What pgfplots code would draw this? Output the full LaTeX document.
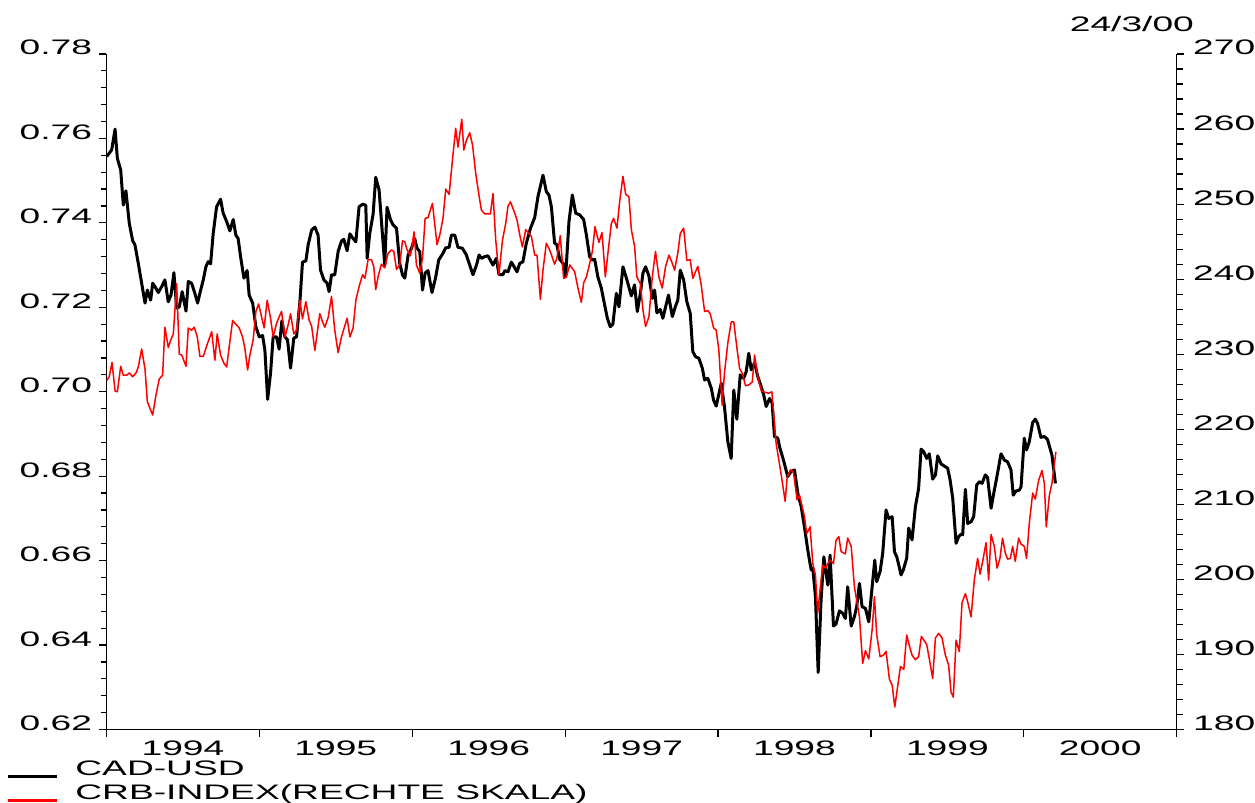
\documentclass[border=0pt]{standalone}
\usepackage{fontspec}
\setmainfont{Liberation Sans}[FakeStretch=1.77]
\usepackage{pgfplots}
\pgfplotsset{compat=1.18}

% Weekly closes, CAD in USD (left scale)
\pgfplotstableread{
year cad
1994.001 0.7557
1994.034 0.7573
1994.056 0.7622
1994.071 0.7553
1994.093 0.7525
1994.110 0.7442
1994.127 0.7476
1994.149 0.7399
1994.171 0.7358
1994.186 0.7348
1994.208 0.7304
1994.230 0.7257
1994.252 0.7210
1994.267 0.7241
1994.289 0.7217
1994.302 0.7257
1994.317 0.7249
1994.339 0.7235
1994.361 0.7249
1994.382 0.7265
1994.404 0.7213
1994.422 0.7229
1994.441 0.7282
1994.459 0.7198
1994.476 0.7201
1994.495 0.7237
1994.520 0.7191
1994.535 0.7261
1994.557 0.7257
1994.578 0.7233
1994.596 0.7210
1994.616 0.7241
1994.633 0.7265
1994.650 0.7296
1994.665 0.7308
1994.681 0.7303
1994.698 0.7375
1994.720 0.7438
1994.746 0.7456
1994.763 0.7423
1994.786 0.7403
1994.807 0.7381
1994.829 0.7408
1994.846 0.7371
1994.861 0.7363
1994.877 0.7320
1994.899 0.7269
1994.920 0.7287
1994.933 0.7229
1994.956 0.7210
1994.977 0.7154
1994.999 0.7130
1995.021 0.7133
1995.036 0.7099
1995.054 0.6982
1995.073 0.7044
1995.090 0.7130
1995.112 0.7130
1995.129 0.7101
1995.147 0.7168
1995.167 0.7130
1995.184 0.7123
1995.204 0.7056
1995.225 0.7127
1995.243 0.7130
1995.265 0.7213
1995.282 0.7307
1995.304 0.7310
1995.319 0.7348
1995.342 0.7383
1995.363 0.7390
1995.384 0.7371
1995.400 0.7288
1995.422 0.7265
1995.443 0.7257
1995.456 0.7237
1995.472 0.7277
1995.493 0.7277
1995.515 0.7332
1995.537 0.7357
1995.552 0.7361
1995.574 0.7334
1995.592 0.7374
1995.613 0.7363
1995.631 0.7355
1995.652 0.7438
1995.675 0.7444
1995.696 0.7442
1995.705 0.7316
1995.722 0.7375
1995.744 0.7421
1995.761 0.7508
1995.783 0.7478
1995.820 0.7300
1995.835 0.7437
1995.858 0.7407
1995.875 0.7395
1995.897 0.7387
1995.918 0.7304
1995.936 0.7277
1995.951 0.7269
1995.973 0.7324
1995.995 0.7340
1996.016 0.7363
1996.031 0.7340
1996.049 0.7332
1996.067 0.7241
1996.084 0.7281
1996.103 0.7287
1996.129 0.7235
1996.152 0.7269
1996.173 0.7312
1996.201 0.7328
1996.219 0.7341
1996.241 0.7342
1996.256 0.7371
1996.278 0.7371
1996.299 0.7342
1996.328 0.7340
1996.354 0.7324
1996.376 0.7300
1996.397 0.7277
1996.420 0.7300
1996.437 0.7324
1996.452 0.7316
1996.474 0.7320
1996.495 0.7322
1996.528 0.7300
1996.550 0.7316
1996.567 0.7278
1996.593 0.7277
1996.605 0.7287
1996.626 0.7284
1996.648 0.7307
1996.663 0.7298
1996.685 0.7284
1996.703 0.7304
1996.724 0.7308
1996.746 0.7352
1996.773 0.7387
1996.801 0.7413
1996.822 0.7462
1996.855 0.7513
1996.877 0.7474
1996.894 0.7466
1996.910 0.7438
1996.931 0.7352
1996.946 0.7348
1996.964 0.7314
1996.986 0.7304
1997.003 0.7272
1997.025 0.7403
1997.047 0.7466
1997.069 0.7423
1997.095 0.7419
1997.121 0.7408
1997.139 0.7371
1997.160 0.7320
1997.178 0.7312
1997.193 0.7314
1997.214 0.7272
1997.237 0.7245
1997.252 0.7217
1997.276 0.7174
1997.295 0.7154
1997.312 0.7160
1997.335 0.7233
1997.352 0.7201
1997.378 0.7296
1997.404 0.7265
1997.433 0.7227
1997.454 0.7253
1997.472 0.7190
1997.492 0.7233
1997.509 0.7281
1997.526 0.7296
1997.548 0.7274
1997.570 0.7221
1997.585 0.7241
1997.600 0.7187
1997.622 0.7195
1997.639 0.7174
1997.657 0.7201
1997.676 0.7229
1997.701 0.7178
1997.722 0.7203
1997.737 0.7217
1997.753 0.7288
1997.775 0.7265
1997.796 0.7213
1997.818 0.7186
1997.835 0.7095
1997.853 0.7083
1997.875 0.7079
1997.897 0.7056
1997.912 0.7028
1997.933 0.7032
1997.956 0.7008
1997.971 0.6980
1997.988 0.6966
1998.021 0.7020
1998.042 0.6965
1998.064 0.6882
1998.086 0.6842
1998.103 0.7004
1998.123 0.6935
1998.145 0.7040
1998.167 0.7032
1998.184 0.7047
1998.201 0.7091
1998.217 0.7052
1998.239 0.7069
1998.260 0.7036
1998.282 0.7012
1998.299 0.6992
1998.315 0.6965
1998.337 0.6984
1998.354 0.6973
1998.369 0.6894
1998.391 0.6890
1998.402 0.6870
1998.428 0.6838
1998.456 0.6799
1998.478 0.6811
1998.500 0.6815
1998.522 0.6759
1998.544 0.6728
1998.565 0.6680
1998.587 0.6625
1998.609 0.6578
1998.620 0.6582
1998.637 0.6515
1998.655 0.6335
1998.674 0.6507
1998.692 0.6609
1998.707 0.6570
1998.718 0.6542
1998.733 0.6613
1998.755 0.6445
1998.772 0.6450
1998.794 0.6481
1998.816 0.6475
1998.833 0.6463
1998.848 0.6538
1998.871 0.6445
1998.892 0.6467
1998.907 0.6491
1998.925 0.6546
1998.942 0.6491
1998.964 0.6487
1998.986 0.6455
1999.008 0.6538
1999.025 0.6601
1999.038 0.6550
1999.060 0.6574
1999.077 0.6617
1999.099 0.6720
1999.116 0.6700
1999.139 0.6704
1999.154 0.6621
1999.169 0.6609
1999.182 0.6590
1999.197 0.6566
1999.212 0.6578
1999.234 0.6606
1999.247 0.6677
1999.269 0.6649
1999.291 0.6728
1999.312 0.6771
1999.328 0.6864
1999.345 0.6858
1999.365 0.6842
1999.382 0.6853
1999.404 0.6793
1999.422 0.6803
1999.437 0.6848
1999.459 0.6829
1999.480 0.6824
1999.502 0.6819
1999.518 0.6791
1999.535 0.6748
1999.557 0.6641
1999.574 0.6657
1999.590 0.6663
1999.600 0.6661
1999.618 0.6769
1999.633 0.6688
1999.655 0.6692
1999.672 0.6704
1999.692 0.6779
1999.709 0.6787
1999.727 0.6783
1999.748 0.6803
1999.763 0.6797
1999.786 0.6724
1999.801 0.6755
1999.822 0.6795
1999.851 0.6853
1999.873 0.6838
1999.894 0.6834
1999.916 0.6815
1999.931 0.6755
1999.949 0.6765
1999.971 0.6767
1999.982 0.6775
2000.003 0.6890
2000.018 0.6862
2000.036 0.6882
2000.058 0.6927
2000.075 0.6935
2000.090 0.6925
2000.112 0.6892
2000.134 0.6894
2000.155 0.6887
2000.184 0.6850
2000.207 0.6783
}\cadusd

% Weekly CRB commodity index (right scale)
\pgfplotstableread{
year crb
1994.001 226.5
1994.018 227.0
1994.036 228.9
1994.056 225.1
1994.071 225.0
1994.093 228.4
1994.110 227.2
1994.132 227.2
1994.149 227.5
1994.171 227.0
1994.193 227.5
1994.208 228.3
1994.230 230.7
1994.252 228.0
1994.267 223.7
1994.284 222.8
1994.302 221.9
1994.324 224.6
1994.345 226.7
1994.367 227.2
1994.382 233.6
1994.404 230.9
1994.420 231.9
1994.437 232.7
1994.459 239.4
1994.476 230.0
1994.492 229.9
1994.520 228.4
1994.535 233.5
1994.557 233.2
1994.574 233.6
1994.594 232.3
1994.611 229.7
1994.633 229.7
1994.655 231.1
1994.688 233.0
1994.709 229.2
1994.724 232.7
1994.746 229.9
1994.768 228.8
1994.786 228.3
1994.807 231.7
1994.825 234.5
1994.846 234.0
1994.868 233.5
1994.890 232.3
1994.905 230.8
1994.923 227.9
1994.938 229.9
1994.959 231.9
1994.977 235.7
1994.995 236.7
1995.014 235.0
1995.031 233.5
1995.051 237.2
1995.073 234.8
1995.090 232.3
1995.112 234.1
1995.134 235.2
1995.145 235.7
1995.167 232.3
1995.188 233.9
1995.204 235.4
1995.225 232.7
1995.243 233.2
1995.265 237.2
1995.282 234.7
1995.304 237.0
1995.326 234.5
1995.342 233.7
1995.363 230.5
1995.395 235.4
1995.413 234.3
1995.428 233.6
1995.450 234.9
1995.472 237.7
1995.493 233.2
1995.515 230.2
1995.537 232.3
1995.559 233.8
1995.574 234.8
1995.592 232.3
1995.613 233.5
1995.631 237.2
1995.652 239.0
1995.675 240.6
1995.690 240.1
1995.711 242.6
1995.733 242.6
1995.748 241.7
1995.761 238.6
1995.776 240.3
1995.798 242.0
1995.820 241.5
1995.841 243.4
1995.864 243.9
1995.879 243.7
1995.897 241.3
1995.918 241.9
1995.936 245.1
1995.951 245.0
1995.966 243.9
1995.988 243.1
1996.012 246.3
1996.027 241.9
1996.049 240.8
1996.067 242.8
1996.084 248.1
1996.103 248.2
1996.132 250.1
1996.162 244.6
1996.180 245.9
1996.201 248.1
1996.219 252.0
1996.241 251.3
1996.263 255.9
1996.284 260.1
1996.299 257.6
1996.324 261.3
1996.337 257.2
1996.354 258.5
1996.376 259.5
1996.394 257.9
1996.415 254.1
1996.437 251.1
1996.452 249.2
1996.474 248.7
1996.511 248.7
1996.528 251.4
1996.546 245.2
1996.567 240.6
1996.590 245.2
1996.611 247.4
1996.626 249.7
1996.642 250.3
1996.663 249.2
1996.685 247.9
1996.703 245.9
1996.720 244.3
1996.742 246.6
1996.763 246.1
1996.779 245.7
1996.801 243.2
1996.816 243.2
1996.838 237.3
1996.855 241.2
1996.877 244.8
1996.899 243.9
1996.931 242.0
1996.946 242.8
1996.968 245.8
1996.990 240.1
1997.008 240.3
1997.030 241.9
1997.062 241.0
1997.084 238.8
1997.106 236.9
1997.121 239.5
1997.139 240.3
1997.156 241.7
1997.178 243.7
1997.195 247.0
1997.208 245.9
1997.221 244.9
1997.241 246.2
1997.263 240.3
1997.280 243.5
1997.302 247.4
1997.317 248.1
1997.339 246.8
1997.356 250.3
1997.378 253.7
1997.396 251.3
1997.417 251.0
1997.433 246.6
1997.454 244.4
1997.469 240.3
1997.492 239.4
1997.509 235.9
1997.526 233.7
1997.548 235.0
1997.570 240.3
1997.591 243.7
1997.613 240.3
1997.635 238.8
1997.657 241.7
1997.679 243.2
1997.701 242.1
1997.716 241.2
1997.737 243.5
1997.753 246.1
1997.775 246.8
1997.796 242.5
1997.818 242.6
1997.835 240.1
1997.853 241.0
1997.868 241.7
1997.890 239.2
1997.912 235.7
1997.933 235.8
1997.949 235.4
1997.971 233.5
1997.988 233.2
1998.005 230.6
1998.027 223.2
1998.042 227.5
1998.064 231.5
1998.086 234.3
1998.103 234.3
1998.125 230.6
1998.141 228.1
1998.158 227.5
1998.180 225.8
1998.201 225.9
1998.224 226.3
1998.239 229.9
1998.260 227.0
1998.282 225.2
1998.310 224.9
1998.332 224.8
1998.352 225.0
1998.380 218.1
1998.412 214.1
1998.439 210.4
1998.452 213.6
1998.474 214.6
1998.493 214.3
1998.517 210.6
1998.533 211.2
1998.565 208.4
1998.580 206.1
1998.602 207.0
1998.620 202.1
1998.637 200.6
1998.652 195.5
1998.668 198.8
1998.685 201.9
1998.703 201.5
1998.718 202.1
1998.733 202.6
1998.755 202.1
1998.772 205.2
1998.790 205.7
1998.805 203.7
1998.833 203.4
1998.848 205.5
1998.871 204.4
1998.892 199.0
1998.925 195.0
1998.946 188.8
1998.964 190.5
1998.986 189.4
1999.008 193.3
1999.023 197.7
1999.038 192.6
1999.060 189.7
1999.082 189.9
1999.099 190.4
1999.121 186.7
1999.139 185.9
1999.156 183.0
1999.176 185.9
1999.193 188.4
1999.215 188.0
1999.234 192.6
1999.252 191.1
1999.269 189.9
1999.291 189.3
1999.312 189.7
1999.330 192.4
1999.350 191.8
1999.365 191.3
1999.382 189.4
1999.404 186.8
1999.422 192.2
1999.443 192.8
1999.465 192.2
1999.487 189.9
1999.508 188.6
1999.524 185.0
1999.539 184.3
1999.557 191.9
1999.578 190.4
1999.596 196.9
1999.618 198.1
1999.633 197.0
1999.655 195.0
1999.676 199.9
1999.698 202.8
1999.714 200.7
1999.731 202.4
1999.753 204.9
1999.770 199.9
1999.786 206.0
1999.807 204.4
1999.825 201.5
1999.844 202.8
1999.861 205.5
1999.879 203.5
1999.894 202.7
1999.912 202.8
1999.927 204.4
1999.944 202.4
1999.966 205.5
1999.982 204.7
2000.003 204.4
2000.018 202.8
2000.036 207.5
2000.058 211.5
2000.075 210.7
2000.097 213.2
2000.119 214.5
2000.134 212.8
2000.147 207.0
2000.167 211.2
2000.184 212.8
2000.199 215.2
2000.210 217.0
}\crbindex

\pgfplotsset{
  chartbase/.style={
    scale only axis, width=535.1pt, height=337.75pt,
    at={(0pt,0pt)}, anchor=south west,
    xmin=1994, xmax=2001,
    axis line style={line width=0.6pt, black},
    tick style={line width=0.6pt, black},
    tick align=outside,
    major tick length=3.6pt, minor tick length=3pt,
    ticklabel style={font=\fontsize{10.5}{12}\selectfont, inner sep=0pt},
    /pgf/number format/assume math mode=true,
    clip=true,
  },
}

\begin{document}
\begin{tikzpicture}
\useasboundingbox (-53.25pt,-36.75pt) rectangle (574.25pt,364.75pt);

% left scale: CAD-USD
\begin{axis}[chartbase,
  ymin=0.62, ymax=0.78,
  axis x line*=bottom, axis y line*=left,
  xtick={1994,1995,1996,1997,1998,1999,2000,2001},
  xticklabels={},
  extra x ticks={1994.5,1995.5,1996.5,1997.5,1998.5,1999.5,2000.5},
  extra x tick labels={1994,1995,1996,1997,1998,1999,2000},
  extra x tick style={major tick length=0pt,
    xticklabel style={anchor=base, yshift=-13.25pt}},
  ytick={0.62,0.64,0.66,0.68,0.70,0.72,0.74,0.76,0.78},
  minor y tick num=4,
  yticklabel style={anchor=base east, xshift=-3.5pt, yshift=-0.5pt,
    /pgf/number format/.cd, fixed, fixed zerofill, precision=2},
]
\addplot[black, line width=1.5pt, line join=round] table[x=year, y=cad] {\cadusd};
\end{axis}

% right scale: CRB index
\begin{axis}[chartbase,
  ymin=180, ymax=270,
  axis x line=none, axis y line*=right,
  ytick={180,190,200,210,220,230,240,250,260,270},
  minor y tick num=4,
  yticklabel style={anchor=base west, xshift=4.5pt, yshift=-0.5pt,
    /pgf/number format/.cd, fixed, precision=0},
]
\addplot[red, line width=0.75pt, line join=round] table[x=year, y=crb] {\crbindex};
\end{axis}

% date stamp
\node[anchor=base west, inner sep=0pt, font=\fontsize{10.5}{12}\selectfont]
  at (481.5pt,348.9pt) {24/3/00};

% legend
\draw[black, line width=1.2pt] (-49.25pt,-23.6pt) -- (-24.75pt,-23.6pt);
\node[anchor=base west, inner sep=0pt, font=\fontsize{10.5}{12}\selectfont]
  at (-15.75pt,-23.25pt) {CAD-USD};
\draw[red, line width=1.2pt] (-49.25pt,-35.6pt) -- (-24.75pt,-35.6pt);
\node[anchor=base west, inner sep=0pt, font=\fontsize{10.5}{12}\selectfont]
  at (-15.75pt,-35.25pt) {CRB-INDEX(RECHTE SKALA)};
\end{tikzpicture}
\end{document}
